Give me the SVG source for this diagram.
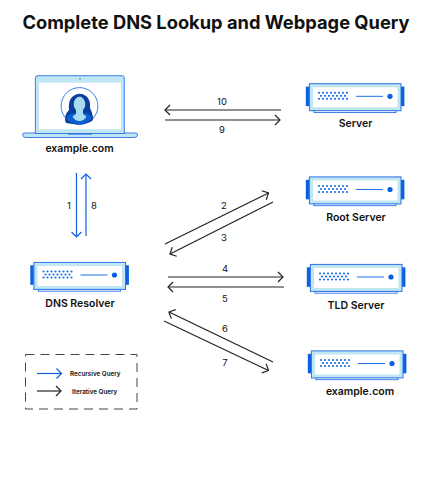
<svg xmlns="http://www.w3.org/2000/svg" width="425" height="482" viewBox="0 0 425 482">
<style>
text{font-family:Inter,"Liberation Sans",sans-serif;fill:#111}
.t{font-size:18.3px;font-weight:700;text-anchor:middle}
.l{font-size:10.5px;font-weight:600;text-anchor:middle}
.n{font-size:9.5px;font-weight:400;text-anchor:middle}
.g{font-size:6.3px;font-weight:600}
.c{fill:none;stroke-width:1.2}
.k{stroke:#222;marker-end:url(#ak)}
.b{stroke:#0b5fe0;marker-end:url(#ab)}
</style>
<defs>
<marker id="ak" markerUnits="userSpaceOnUse" markerWidth="14" markerHeight="14" refX="11" refY="7" orient="auto"><path d="M6 2L11 7L6 12" fill="none" stroke="#222" stroke-width="1.2"/></marker>
<marker id="ab" markerUnits="userSpaceOnUse" markerWidth="14" markerHeight="14" refX="11" refY="7" orient="auto"><path d="M6 2L11 7L6 12" fill="none" stroke="#0b5fe0" stroke-width="1.2"/></marker>
<g id="srv">
<rect x="5" y="27" width="82" height="2.2" fill="#fff" stroke="#2b72e6" stroke-width="0.9"/>
<rect x="-3.2" y="3.3" width="3.4" height="19.5" fill="#0b5fe0"/>
<rect x="91.8" y="3.3" width="3.6" height="19.5" fill="#0b5fe0"/>
<rect x="0.4" y="0.4" width="91.6" height="27" fill="#bfe6f2" stroke="#2b72e6" stroke-width="1"/>
<rect x="4" y="4" width="84.5" height="20" fill="#fff"/>
<g fill="#1f6fe5">
<circle cx="10" cy="9.500" r="1.100"/><circle cx="14" cy="9.500" r="1.100"/><circle cx="18" cy="9.500" r="1.100"/><circle cx="22" cy="9.500" r="1.100"/><circle cx="26" cy="9.500" r="1.100"/><circle cx="30" cy="9.500" r="1.100"/><circle cx="34" cy="9.500" r="1.100"/><circle cx="38" cy="9.500" r="1.100"/>
<circle cx="12" cy="12.500" r="1.100"/><circle cx="16" cy="12.500" r="1.100"/><circle cx="20" cy="12.500" r="1.100"/><circle cx="24" cy="12.500" r="1.100"/><circle cx="28" cy="12.500" r="1.100"/><circle cx="32" cy="12.500" r="1.100"/><circle cx="36" cy="12.500" r="1.100"/>
<circle cx="10" cy="15.500" r="1.100"/><circle cx="14" cy="15.500" r="1.100"/><circle cx="18" cy="15.500" r="1.100"/><circle cx="22" cy="15.500" r="1.100"/><circle cx="26" cy="15.500" r="1.100"/><circle cx="30" cy="15.500" r="1.100"/><circle cx="34" cy="15.500" r="1.100"/><circle cx="38" cy="15.500" r="1.100"/>
</g>
<path d="M47 13H74" stroke="#1f6fe5" stroke-width="1"/>
<circle cx="81" cy="13" r="2.600" fill="#0b5fe0"/>
</g>
</defs>
<text class="t" x="216" y="29">Complete DNS Lookup and Webpage Query</text>

<g id="client">
<path d="M24 133H136Q137.500 133 137.500 135Q137.500 137.500 134 137.500H26Q22.700 137.500 22.700 135Q22.700 133 24 133Z" fill="#bfe6f2" stroke="#2b72e6" stroke-width="0.9"/>
<path d="M35.400 133.500V78Q35.400 75.700 38 75.700H122Q124.300 75.700 124.300 78V133.500Z" fill="#bfe6f2" stroke="#2b72e6" stroke-width="0.9"/>
<rect x="39" y="82.700" width="82" height="46.500" fill="#fff"/>
<rect x="68" y="133" width="24" height="1.600" fill="#2b72e6"/>
<circle cx="80" cy="78.800" r=".8" fill="#2b72e6"/>
<circle cx="79.500" cy="106" r="18.400" fill="#fff" stroke="#2b72e6" stroke-width="0.9"/>
<path d="M66 123Q63 116 69 110Q68 101 72 97Q79 91 86 96Q91 100 90 108Q92 112 92.500 115Q94 119 92 121Q86 124.400 79 124.400Q72 124.400 66 123Z" fill="#0b3f9e"/>
<path d="M66 118Q70 113 75 113H84Q89 113 92 118Q87 124.400 79 124.400Q71 124.400 66 118Z" fill="#0b5fd0"/>
<path d="M76 108H83V114L86.500 116.500Q84 121 79.500 121Q75 121 72.500 116.500L76 114Z" fill="#a9dcef"/>
<ellipse cx="79.500" cy="104" rx="5.800" ry="7.500" fill="#a9dcef"/>
<path d="M73 103Q74 98 80 96Q84 98 86 103Q87 97 80 95Q72 96 73 103Z" fill="#0b3f9e"/>
<text class="l" x="79.500" y="152">example.com</text>
</g>
<g id="server"><use href="#srv" x="309" y="83.300"/><text class="l" x="355.500" y="127">Server</text></g>
<g id="root-server"><use href="#srv" x="309" y="176.500"/><text class="l" x="356" y="221">Root Server</text></g>
<g id="tld-server"><use href="#srv" x="310" y="264"/><text class="l" x="356" y="309">TLD Server</text></g>
<g id="authoritative-server"><use href="#srv" x="311" y="350.500"/><text class="l" x="360" y="395">example.com</text></g>
<g id="dns-resolver"><use href="#srv" x="33.500" y="262"/><text class="l" x="80" y="307">DNS Resolver</text></g>

<g id="connectors">
<path class="c k" d="M281 110H165"/>
<path class="c k" d="M165 120H280"/>
<path class="c b" d="M76.500 173V237"/>
<path class="c b" d="M86 236V174"/>
<path class="c k" d="M165 244L268.500 193"/>
<path class="c k" d="M273 202L170 254"/>
<path class="c k" d="M168 277H283"/>
<path class="c k" d="M284 287H168"/>
<path class="c k" d="M273 362L169 312"/>
<path class="c k" d="M164 321L268.500 370.500"/>
</g>
<g id="edge-labels">
<text class="n" x="222" y="105">10</text>
<text class="n" x="222" y="133">9</text>
<text class="n" x="69" y="209">1</text>
<text class="n" x="94" y="209">8</text>
<text class="n" x="224" y="209">2</text>
<text class="n" x="224" y="241">3</text>
<text class="n" x="225" y="272">4</text>
<text class="n" x="225" y="302">5</text>
<text class="n" x="225" y="332">6</text>
<text class="n" x="225" y="366">7</text>
</g>
<g id="legend">
<rect x="25.500" y="354.500" width="111.500" height="54.500" fill="none" stroke="#444" stroke-width="1" stroke-dasharray="9 6"/>
<path class="c b" d="M37 373.500H61.500"/>
<path class="c k" d="M37 391H61"/>
<text class="g" x="70" y="375.500">Recursive Query</text>
<text class="g" x="72" y="393.500">Iterative Query</text>
</g>
</svg>
